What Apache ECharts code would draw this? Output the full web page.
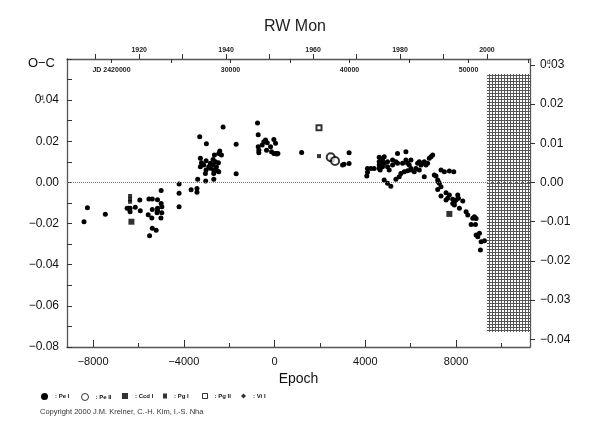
<!DOCTYPE html>
<html><head><meta charset="utf-8">
<script src="https://cdn.jsdelivr.net/npm/echarts@6/dist/echarts.min.js"></script>
<style>html,body{margin:0;padding:0;background:#fff}#c{width:590px;height:425px}</style>
</head><body><div id="c"></div>
<script>
// ---- texts ----
const chartTitle = 'RW Mon';
const copyright = 'Copyright 2000 J.M. Kreiner, C.-H. Kim, I.-S. Nha';
const legendNames = ['Pe I', 'Pe II', 'Ccd I', 'Pg I', 'Pg II', 'Vi I'];

// ---- ephemeris / axis ranges ----
const PERIOD = 1.90609;          // days
const T0 = 2433701;              // JD of epoch 0
const EPOCH_MIN = -9150, EPOCH_MAX = 11260;
const OC_MIN = -0.08, OC_MAX = 0.06;

// ---- ticks ----
const epochTicks = [-8000, -4000, 0, 4000, 8000];
const epochMinorTicks = [-6000, -2000, 2000, 6000, 10000];
const jdTicks = [20000, 25000, 30000, 35000, 40000, 45000, 50000, 55000];
const jdLabels = [20000, 30000, 40000, 50000];
const yearTicks = [1910, 1920, 1930, 1940, 1950, 1960, 1970, 1980, 1990, 2000];
const yearLabels = [1920, 1940, 1960, 1980, 2000];
const rightTicks = [-0.04, -0.03, -0.02, -0.01, 0, 0.01, 0.02, 0.03];

// ---- future (hatched) region ----
const HATCH_EPOCH_START = 9361;
const HATCH_TOP = 0.0527, HATCH_BOTTOM = -0.0727;

// ---- data: [epoch, O-C (days)] ----
const peI = [
  [-8400,-0.0191],[-8250,-0.0123],[-7460,-0.0155],
  [-6500,-0.0126],[-6430,-0.0126],[-6370,-0.0126],[-6370,-0.0142],
  [-6140,-0.0121],[-5940,-0.0086],[-5920,-0.0138],
  [-5540,-0.0081],[-5390,-0.0081],[-5160,-0.0084],[-5000,-0.0102],[-4970,-0.0118],
  [-5160,-0.0126],[-5160,-0.0138],[-5180,-0.0147],[-5390,-0.0131],[-5570,-0.0157],[-5410,-0.0173],
  [-4970,-0.0147],[-5010,-0.0173],[-5390,-0.0223],[-5220,-0.0233],[-5510,-0.0259],
  [-5000,-0.0039],[-4210,-0.0008],[-4210,-0.0053],[-4210,-0.0118],
  [-3680,-0.0035],[-3420,-0.0029],[-3420,-0.0048],[-3390,0.0015],[-3035,0.0007],[-2680,0.0015],
  [-3300,0.0222],[-3006,0.0188],[-2268,0.0269],[-1693,0.0185],[-1693,0.0042],
  [-3271,0.0117],[-3226,0.0096],[-3271,0.0076],[-3124,0.0085],[-3019,0.0105],[-3019,0.0060],
  [-2902,0.0076],[-2829,0.0069],[-2711,0.0112],[-2711,0.0085],[-2682,0.0060],[-2652,0.0133],
  [-2564,0.0076],[-2535,0.0057],[-2475,0.0096],[-2460,0.0141],[-2416,0.0153],[-2343,0.0133],
  [-2460,0.0052],[-2682,0.0044],[-2829,0.0093],[-2608,0.0101],[-3050,0.0044],
  [-751,0.0289],[-722,0.0232],[-722,0.0174],[-694,0.0157],[-694,0.0144],[-545,0.0182],[-473,0.0198],
  [-398,0.0206],[-354,0.0157],[-177,0.0174],[-133,0.0149],[-31,0.0209],[44,0.0190],[-31,0.0141],
  [60,0.0141],[147,0.0141],[-324,0.0193],[100,0.0138],
  [1193,0.0146],
  [2549,0.0109],[2500,0.0112],[3064,0.0088],[3000,0.0085],[3285,0.0144],[3285,0.0092],
  [4066,0.0031],[4096,0.0068],[4243,0.0068],[4390,0.0068],[4096,0.0049],
  [4612,0.0122],[4612,0.0101],[4612,0.0085],[4612,0.0068],[4700,0.0093],[4700,0.0115],
  [4656,0.0060],[4759,0.0109],[4759,0.0076],[4833,0.0093],[4833,0.0125],[4980,0.0101],[4980,0.0076],
  [5054,0.0060],[5201,0.0109],[5201,0.0085],[5348,0.0101],[5421,0.0141],[5421,0.0093],[5643,0.0093],
  [5790,0.0149],[5790,0.0109],[5864,0.0093],[5937,0.0085],[6011,0.0109],[6011,0.0068],[6158,0.0052],
  [6306,0.0093],[6380,0.0101],[6453,0.0085],[6527,0.0093],[6600,0.0101],[6674,0.0085],[6748,0.0093],
  [6821,0.0117],[6895,0.0125],[6969,0.0133],
  [4833,0.0012],[4980,-0.0004],[5127,-0.0018],[5348,0.0015],[5495,0.0028],[5569,0.0044],[5716,0.0052],
  [5864,0.0057],[6011,0.0060],[6232,0.0068],[6380,0.0060],[6599,0.0028],[7041,0.0036],
  [7116,0.0031],[7190,0.0012],[7219,0.0003],[7263,-0.0004],[7337,-0.0021],[7190,-0.0034],[7337,-0.0066],
  [7558,-0.0050],[7558,-0.0086],[7632,-0.0077],[7705,-0.0061],[7853,-0.0082],[7853,-0.0102],[7927,-0.0110],
  [7927,-0.0094],[8000,-0.0086],[8075,-0.0061],[8103,-0.0077],[8296,-0.0090],[8148,-0.0126],[8443,-0.0142],
  [8517,-0.0158],[8738,-0.0174],[8811,-0.0167],[8885,-0.0175],[8664,-0.0204],[8855,-0.0204],[9032,-0.0247],
  [8885,-0.0256],[8959,-0.0264],[9251,-0.0283],[9105,-0.0288],[9075,-0.0329],
  [7337,0.0060],[7484,0.0052],[7705,0.0055],[7899,0.0052]
];
const peII = [[2475,0.0122],[2667,0.0104]];
const ccdI = [[-6310,-0.0191],[7705,-0.0153]];
const pgI = [[-6370,-0.0066],[-6370,-0.0082],[-6370,-0.0094],[1959,0.0128]];
const pgII = [[1959,0.0266]];
const viI = [];

// ---- helpers ----
const jdOf = e => T0 + PERIOD * e - 2400000;
const yearOf = e => 1900 + (T0 + PERIOD * e - 2415020.5) / 365.25;
const minus = s => s.replace('-', '\u2212');
const FONT = 'Liberation Sans, Arial, sans-serif';
const AX = '#555';

const hatch = document.createElement('canvas');
hatch.width = 3; hatch.height = 3;
const hg = hatch.getContext('2d');
hg.fillStyle = '#fff'; hg.fillRect(0, 0, 3, 3);
hg.fillStyle = '#555'; hg.fillRect(0, 0, 1, 3); hg.fillRect(0, 0, 3, 1);

const supRich = { d: { fontSize: 7, verticalAlign: 'top', align: 'left', width: 1, fontFamily: FONT, color: '#111' } };

function legendAt(name, left, w, h, extra) {
  return Object.assign({
    data: [name], left: left, top: 393, padding: 0, itemWidth: w, itemHeight: h, itemGap: 0,
    selectedMode: false, formatter: ': {name}',
    textStyle: { fontSize: 6, fontWeight: 'bold', fontFamily: FONT, color: '#111', padding: [0, 0, 0, 2] }
  }, extra || {});
}

const chart = echarts.init(document.getElementById('c'), null, { renderer: 'canvas' });
chart.setOption({
  animation: false,
  backgroundColor: '#fff',
  title: [
    { text: chartTitle, left: 'center', top: 19, padding: 0,
      textStyle: { fontSize: 16, fontWeight: 'normal', color: '#222', fontFamily: FONT } },
    { text: copyright, left: 40, top: 408, padding: 0,
      textStyle: { fontSize: 7.5, fontWeight: 'normal', color: '#333', fontFamily: FONT } }
  ],
  legend: [
    legendAt('Pe I', 41, 7, 7),
    legendAt('Pe II', 81, 7, 7, { icon: 'circle', itemStyle: { color: '#fff', borderColor: '#000', borderWidth: 1 } }),
    legendAt('Ccd I', 122, 6, 6),
    legendAt('Pg I', 163, 4, 5),
    legendAt('Pg II', 202, 5, 5, { icon: 'rect', itemStyle: { color: '#fff', borderColor: '#000', borderWidth: 1 } }),
    legendAt('Vi I', 241, 5, 5)
  ],
  grid: { left: 67, right: 60, top: 59, bottom: 78, containLabel: false },
  xAxis: [
    { type: 'value', position: 'bottom', min: EPOCH_MIN, max: EPOCH_MAX,
      axisLine: { show: true, onZero: false, lineStyle: { color: AX, width: 1.3 } },
      axisTick: { show: true, inside: true, length: 7, customValues: epochTicks, lineStyle: { color: '#333' } },
      axisLabel: { customValues: epochTicks, margin: 9, fontSize: 11, color: '#111', fontFamily: FONT,
        formatter: v => minus(String(Math.round(v))) },
      splitLine: { show: false },
      name: 'Epoch', nameLocation: 'middle', nameGap: 24,
      nameTextStyle: { fontSize: 14, color: '#111', fontFamily: FONT } },
    { type: 'value', position: 'bottom', min: EPOCH_MIN, max: EPOCH_MAX,
      axisLine: { show: false, onZero: false },
      axisTick: { show: true, inside: true, length: 4, customValues: epochMinorTicks, lineStyle: { color: '#333' } },
      axisLabel: { show: false }, splitLine: { show: false } },
    { type: 'value', position: 'top', min: jdOf(EPOCH_MIN), max: jdOf(EPOCH_MAX),
      axisLine: { show: true, onZero: false, lineStyle: { color: AX, width: 1.3 } },
      axisTick: { show: true, inside: true, length: 4, customValues: jdTicks, lineStyle: { color: '#333' } },
      axisLabel: { inside: true, customValues: jdLabels, margin: 8, fontSize: 7, fontWeight: 'bold',
        color: '#222', fontFamily: FONT,
        formatter: v => (Math.round(v) === 20000 ? 'JD 2420000' : String(Math.round(v))) },
      splitLine: { show: false } },
    { type: 'value', position: 'top', min: yearOf(EPOCH_MIN), max: yearOf(EPOCH_MAX),
      axisLine: { show: false, onZero: false },
      axisTick: { show: true, inside: false, length: 5, customValues: yearTicks, lineStyle: { color: '#333' } },
      axisLabel: { customValues: yearLabels, margin: 5, fontSize: 7, fontWeight: 'bold',
        color: '#222', fontFamily: FONT, formatter: v => String(Math.round(v)) },
      splitLine: { show: false } }
  ],
  yAxis: [
    { type: 'value', position: 'left', min: OC_MIN, max: OC_MAX, interval: 0.01,
      axisLine: { show: true, onZero: false, lineStyle: { color: AX, width: 1.3 } },
      axisTick: { show: true, inside: true, length: 5, lineStyle: { color: '#333' } },
      axisLabel: { margin: 8, fontSize: 12, color: '#111', fontFamily: FONT, rich: supRich,
        formatter: v => {
          const k = Math.round(v * 100);
          if (k % 2 !== 0 || k >= 6) return '';
          if (k === 4) return '0{d|d}.04';
          return minus((k / 100).toFixed(2));
        } },
      splitLine: { show: false },
      name: 'O\u2212C', nameLocation: 'end', nameGap: -4,
      nameTextStyle: { fontSize: 13, color: '#111', fontFamily: FONT, align: 'right',
        verticalAlign: 'middle', padding: [0, 12, 0, 0] } },
    { type: 'value', position: 'right', min: OC_MIN / PERIOD, max: OC_MAX / PERIOD,
      axisLine: { show: true, onZero: false, lineStyle: { color: AX, width: 1.3 } },
      axisTick: { show: true, inside: false, length: 5, customValues: rightTicks, lineStyle: { color: '#333' } },
      axisLabel: { customValues: rightTicks, margin: 10, fontSize: 12, color: '#111', fontFamily: FONT, rich: supRich,
        formatter: v => {
          const k = Math.round(v * 100);
          if (k === 3) return '0{d|d}.03';
          return minus((k / 100).toFixed(2));
        } },
      splitLine: { show: false } }
  ],
  series: [
    { type: 'scatter', name: 'ref', data: [], silent: true, z: 1,
      markLine: { silent: true, symbol: 'none', label: { show: false },
        lineStyle: { color: '#777', type: 'dotted', width: 1 },
        data: [{ yAxis: 0 }] },
      markArea: { silent: true, itemStyle: { color: { image: hatch, repeat: 'repeat' }, opacity: 1 },
        data: [[{ coord: [HATCH_EPOCH_START, HATCH_TOP] }, { coord: [EPOCH_MAX, HATCH_BOTTOM] }]] } },
    { type: 'scatter', name: 'Pe I', data: peI, symbol: 'circle', symbolSize: 5, z: 3,
      itemStyle: { color: '#000', opacity: 1 } },
    { type: 'scatter', name: 'Pe II', data: peII, symbol: 'emptyCircle', symbolSize: 8, z: 4,
      itemStyle: { color: '#000', borderColor: '#000', borderWidth: 1 } },
    { type: 'scatter', name: 'Ccd I', data: ccdI, symbol: 'rect', symbolSize: 6, z: 3,
      itemStyle: { color: '#000' } },
    { type: 'scatter', name: 'Pg I', data: pgI, symbol: 'rect', symbolSize: 4, z: 3,
      itemStyle: { color: '#000' } },
    { type: 'scatter', name: 'Pg II', data: pgII, symbol: 'emptyRect', symbolSize: 5, z: 3,
      itemStyle: { color: '#000', borderColor: '#000', borderWidth: 1 } },
    { type: 'scatter', name: 'Vi I', data: viI, symbol: 'diamond', symbolSize: 5, z: 3,
      itemStyle: { color: '#000' } }
  ]
});
</script>
</body></html>
